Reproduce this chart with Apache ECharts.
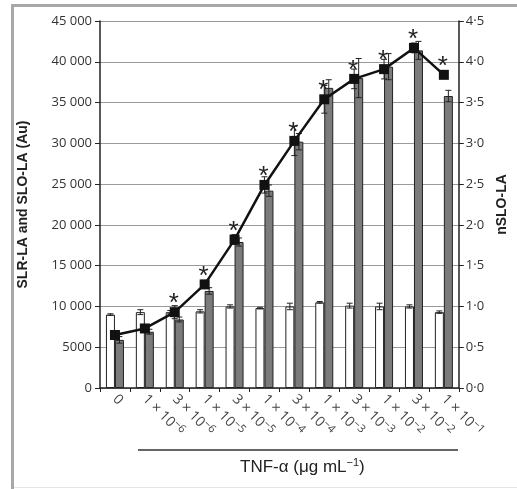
<!DOCTYPE html>
<html>
<head>
<meta charset="utf-8">
<script src="https://cdn.jsdelivr.net/npm/echarts@6/dist/echarts.min.js"></script>
<style>
  html, body { margin: 0; padding: 0; background: #fff; }
  #chart { width: 517px; height: 489px; }
</style>
</head>
<body>
<div id="chart"></div>
<script>
// TNF-α doses (mantissa×10, exponent)
const doses = ['0', '1 × 10|−6', '3 × 10|−6', '1 × 10|−5', '3 × 10|−5', '1 × 10|−4', '3 × 10|−4', '1 × 10|−3', '3 × 10|−3', '1 × 10|−2', '3 × 10|−2', '1 × 10|−1'];
// SLR-LA (white bars, Au)
const slr = [9000, 9300, 9300, 9400, 10000, 9800, 10000, 10500, 10100, 10000, 10000, 9300];
const slrErr = [100, 300, 200, 200, 200, 100, 400, 100, 300, 400, 200, 150];
// SLO-LA (grey bars, Au)
const slo = [5900, 6900, 8400, 11900, 17900, 24200, 30200, 36800, 38000, 39400, 41400, 35800];
const sloErr = [400, 300, 300, 400, 500, 700, 1000, 1000, 2400, 1600, 1100, 700];
// nSLO-LA (line, right axis)
const nslo = [0.65, 0.73, 0.93, 1.27, 1.82, 2.49, 3.03, 3.54, 3.79, 3.91, 4.17, 3.84];
const nsloErr = [0.05, 0.04, 0.08, 0.05, 0.06, 0.1, 0.18, 0.17, 0.12, 0.12, 0.06, 0.03];
// significance marks
const sig = [0, 0, 1, 1, 1, 1, 1, 1, 1, 1, 1, 1];

const chart = echarts.init(document.getElementById('chart'));

// error bar drawing, offset in px from category centre
function errBars(off) {
  return function (params, api) {
    const i = api.value(0), v = api.value(1), e = api.value(2);
    if (!e) return null;
    const hi = api.coord([i, v + e]);
    const lo = api.coord([i, v - e]);
    const x = hi[0] + off;
    const st = { stroke: '#222', lineWidth: 1 };
    return {
      type: 'group',
      children: [
        { type: 'line', shape: { x1: x, y1: hi[1], x2: x, y2: lo[1] }, style: st },
        { type: 'line', shape: { x1: x - 3, y1: hi[1], x2: x + 3, y2: hi[1] }, style: st },
        { type: 'line', shape: { x1: x - 3, y1: lo[1], x2: x + 3, y2: lo[1] }, style: st }
      ]
    };
  };
}

function fmtThousands(v) {
  if (v < 10000) return String(v);
  const s = String(v);
  return s.slice(0, s.length - 3) + ' ' + s.slice(-3);
}

const option = {
  animation: false,
  textStyle: { fontFamily: 'Open Sans' },
  grid: { left: 100, right: 55, top: 21, bottom: 101 },
  xAxis: {
    type: 'category',
    data: doses,
    axisLine: { lineStyle: { color: '#222', width: 1.5 } },
    axisTick: { show: true, length: 4, lineStyle: { color: '#222' } },
    axisLabel: {
      interval: 0,
      rotate: -45,
      margin: 9,
      color: '#444',
      formatter: function (v) {
        const p = v.split('|');
        if (p.length === 1) return '{n|' + p[0] + '}';
        return '{n|' + p[0] + '}{s|' + p[1] + '}';
      },
      rich: {
        n: { fontSize: 14, fontFamily: 'Open Sans', color: '#444' },
        s: { fontSize: 11, fontFamily: 'Open Sans', color: '#444', padding: [0, 0, 7, 0] }
      }
    }
  },
  yAxis: [
    {
      type: 'value',
      min: 0, max: 45000, interval: 5000,
      name: 'SLR-LA and SLO-LA (Au)',
      nameLocation: 'middle',
      nameRotate: 90,
      nameGap: 70,
      nameTextStyle: { fontFamily: 'Liberation Sans', fontWeight: 'bold', fontSize: 14, color: '#222' },
      axisLine: { show: true, lineStyle: { color: '#222', width: 1.5 } },
      axisTick: { show: true, length: 5, lineStyle: { color: '#222' } },
      axisLabel: { color: '#333', fontSize: 13, margin: 8, formatter: fmtThousands },
      splitLine: { lineStyle: { color: '#9a9a9a', width: 1 } }
    },
    {
      type: 'value',
      min: 0, max: 4.5, interval: 0.5,
      name: 'nSLO-LA',
      nameLocation: 'middle',
      nameRotate: 90,
      nameGap: 34,
      nameTextStyle: { fontFamily: 'Liberation Sans', fontWeight: 'bold', fontSize: 14, color: '#222' },
      axisLine: { show: true, lineStyle: { color: '#222', width: 1.5 } },
      axisTick: { show: true, length: 5, lineStyle: { color: '#222' } },
      axisLabel: {
        color: '#333', fontSize: 13, margin: 7,
        formatter: function (v) { return v.toFixed(1).replace('.', '·'); }
      },
      splitLine: { show: false }
    }
  ],
  series: [
    {
      name: 'SLR-LA',
      type: 'bar',
      data: slr,
      barWidth: 9,
      barGap: '0%',
      itemStyle: { color: '#fff', borderColor: '#222', borderWidth: 1 }
    },
    {
      name: 'SLO-LA',
      type: 'bar',
      data: slo,
      barWidth: 9,
      barGap: '0%',
      itemStyle: { color: '#7b7b7b', borderColor: '#222', borderWidth: 1 }
    },
    {
      type: 'custom',
      renderItem: errBars(-4.5),
      data: slr.map((v, i) => [i, v, slrErr[i]]),
      z: 3
    },
    {
      type: 'custom',
      renderItem: errBars(4.5),
      data: slo.map((v, i) => [i, v, sloErr[i]]),
      z: 3
    },
    {
      type: 'custom',
      yAxisIndex: 1,
      renderItem: errBars(0),
      data: nslo.map((v, i) => [i, v, nsloErr[i]]),
      z: 4
    },
    {
      name: 'nSLO-LA',
      type: 'line',
      yAxisIndex: 1,
      data: nslo,
      z: 5,
      symbol: 'rect',
      symbolSize: 10,
      lineStyle: { color: '#111', width: 2.5 },
      itemStyle: { color: '#111' },
      label: {
        show: true,
        position: 'top',
        distance: 2,
        offset: [-1, 12],
        fontSize: 26,
        fontFamily: 'Liberation Sans',
        color: '#222',
        formatter: function (p) { return sig[p.dataIndex] ? '*' : ''; }
      }
    }
  ],
  graphic: [
    { type: 'rect', shape: { x: 11, y: 4, width: 3, height: 485 }, style: { fill: '#a8a8a8' } },
    { type: 'rect', shape: { x: 11, y: 4, width: 506, height: 3 }, style: { fill: '#a8a8a8' } },
    { type: 'rect', shape: { x: 14, y: 487, width: 503, height: 1 }, style: { fill: '#e4e4e4' } },
    { type: 'line', shape: { x1: 138, y1: 450, x2: 458, y2: 450 }, style: { stroke: '#333', lineWidth: 1.5 } },
    {
      type: 'text',
      left: 240, top: 457,
      style: {
        text: '{n|TNF-α (μg mL}{s|−1}{n|)}',
        rich: {
          n: { fontSize: 17, fontFamily: 'Liberation Sans', fill: '#222' },
          s: { fontSize: 11, fontFamily: 'Liberation Sans', fill: '#222', padding: [0, 0, 9, 0] }
        }
      }
    }
  ]
};

chart.setOption(option);
</script>
</body>
</html>
